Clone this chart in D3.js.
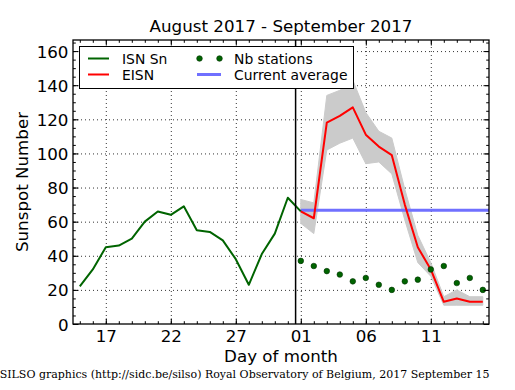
<!DOCTYPE html>
<html><head><meta charset="utf-8">
<script src="https://cdn.jsdelivr.net/npm/d3@7"></script>
<style>
html,body{margin:0;padding:0;background:#fff;}
svg{display:block;}
text{font-family:"DejaVu Sans",sans-serif;fill:#000;}
</style></head>
<body>
<svg id="c" width="515" height="390"></svg>
<script>
const isnDates = ["2017-08-15","2017-08-16","2017-08-17","2017-08-18","2017-08-19","2017-08-20","2017-08-21","2017-08-22","2017-08-23","2017-08-24","2017-08-25","2017-08-26","2017-08-27","2017-08-28","2017-08-29","2017-08-30","2017-08-31","2017-09-01"];
const isnValues = [22,32,45,46,50,60,66,64,69,55,54,49,38,23,41,53,74,66];
const eisnDates = ["2017-09-01","2017-09-02","2017-09-03","2017-09-04","2017-09-05","2017-09-06","2017-09-07","2017-09-08","2017-09-09","2017-09-10","2017-09-11","2017-09-12","2017-09-13","2017-09-14","2017-09-15"];
const eisnValues = [66,62,118,122,127,111,104,99,70,45,32,13,15,13,13];
const eisnLow    = [59,53,102,106,109,94,95,88,61,36,28,11,11,11,11];
const eisnHigh   = [73,71,134,137,143,124,113,109,79,52,36,16,20,16,16];
const nbStations = [37,34,31,29,25,27,23,20,25,26,32,34,24,27,20];
const currentAverage = 66.7;
const averageStart = "2017-09-01";
const todayMark = "2017-08-31T14:24";
const xDomain = ["2017-08-14T12:00","2017-09-15T12:00"];
const yDomain = [0,166.5];
const xMajorTicks = ["2017-08-17","2017-08-22","2017-08-27","2017-09-01","2017-09-06","2017-09-11"];
const yMajorTicks = [0,20,40,60,80,100,120,140,160];
const titleText = "August 2017 - September 2017";
const xLabel = "Day of month";
const yLabel = "Sunspot Number";
const footer = "SILSO graphics (http://sidc.be/silso) Royal Observatory of Belgium, 2017 September 15";
const legendItems = ["ISN Sn","EISN","Nb stations","Current average"];

const P = s => new Date(s + (s.length===10 ? "T00:00Z" : "Z"));
const L=73, R=489, T=40, B=324;
const svg = d3.select("#c");
const x = d3.scaleUtc().domain(xDomain.map(P)).range([L+0.3, R+0.3]);
const y = d3.scaleLinear().domain(yDomain).range([B, T]);

const minorDays = d3.utcDay.range(P("2017-08-15"), P("2017-09-16"));
const yMinor = d3.range(0, 166, 5);

// grid
const grid = svg.append("g").attr("stroke","#000");
grid.append("g").attr("transform",`translate(0,${B})`)
  .call(d3.axisBottom(x).tickValues(xMajorTicks.map(P)).tickSize(-(B-T)).tickFormat(""))
  .call(g=>{g.select(".domain").remove(); g.selectAll("line").attr("stroke","#000").attr("stroke-width",0.8).attr("stroke-dasharray","1,3");});
grid.append("g").attr("transform",`translate(${L},0)`)
  .call(d3.axisLeft(y).tickValues(yMajorTicks.filter(v=>v>0)).tickSize(-(R-L)).tickFormat(""))
  .call(g=>{g.select(".domain").remove(); g.selectAll("line").attr("stroke","#000").attr("stroke-width",0.8).attr("stroke-dasharray","1,3");});

const plot = svg.append("g");
svg.append("clipPath").attr("id","clip").append("rect").attr("x",L).attr("y",T).attr("width",R-L).attr("height",B-T);
plot.attr("clip-path","url(#clip)");

// band
const eisn = eisnDates.map((d,i)=>({d:P(d), v:eisnValues[i], lo:eisnLow[i], hi:eisnHigh[i], n:nbStations[i]}));
plot.append("path").datum(eisn)
  .attr("d", d3.area().x(p=>x(p.d)).y0(p=>y(p.lo)).y1(p=>y(p.hi)))
  .attr("fill","#cbcbcb").attr("stroke","#cbcbcb").attr("stroke-width",1);

// current average
plot.append("line").attr("x1",x(P(averageStart))).attr("x2",R).attr("y1",y(currentAverage)).attr("y2",y(currentAverage))
  .attr("stroke","#7070ff").attr("stroke-width",3);

// ISN line
const isn = isnDates.map((d,i)=>({d:P(d), v:isnValues[i]}));
plot.append("path").datum(isn).attr("d", d3.line().x(p=>x(p.d)).y(p=>y(p.v)))
  .attr("fill","none").attr("stroke","#006400").attr("stroke-width",2).attr("stroke-linejoin","round");

// EISN
plot.append("path").datum(eisn).attr("d", d3.line().x(p=>x(p.d)).y(p=>y(p.v)))
  .attr("fill","none").attr("stroke","#ff0000").attr("stroke-width",2).attr("stroke-linejoin","round");

// today line
svg.append("line").attr("x1",x(P(todayMark))).attr("x2",x(P(todayMark))).attr("y1",T).attr("y2",B)
  .attr("stroke","#000").attr("stroke-width",1.5);

// dots
plot.selectAll("circle.nb").data(eisn).join("circle").attr("class","nb")
  .attr("cx",p=>x(p.d)).attr("cy",p=>y(p.n)).attr("r",2.8)
  .attr("fill","#006400").attr("stroke","#003000").attr("stroke-width",0.6);

// axes ticks (inward) on all sides
function styleAxis(g){ g.select(".domain").remove(); g.selectAll("line").attr("stroke","#000").attr("stroke-width",1); }
const fmt = d3.utcFormat("%d");
svg.append("g").attr("transform",`translate(0,${B})`).call(d3.axisBottom(x).tickValues(minorDays).tickSize(-2.8).tickFormat("")).call(styleAxis);
svg.append("g").attr("transform",`translate(0,${T})`).call(d3.axisTop(x).tickValues(minorDays).tickSize(-2.8).tickFormat("")).call(styleAxis);
svg.append("g").attr("transform",`translate(0,${B})`).call(d3.axisBottom(x).tickValues(xMajorTicks.map(P)).tickSize(-5.5).tickPadding(0).tickFormat(fmt))
  .call(styleAxis).call(g=>g.selectAll("text").attr("font-size","16.7px").attr("dy",null).attr("y",18));
svg.append("g").attr("transform",`translate(0,${T})`).call(d3.axisTop(x).tickValues(xMajorTicks.map(P)).tickSize(-5.5).tickFormat("")).call(styleAxis);
svg.append("g").attr("transform",`translate(${L},0)`).call(d3.axisLeft(y).tickValues(yMinor).tickSize(-2.8).tickFormat("")).call(styleAxis);
svg.append("g").attr("transform",`translate(${R},0)`).call(d3.axisRight(y).tickValues(yMinor).tickSize(-2.8).tickFormat("")).call(styleAxis);
svg.append("g").attr("transform",`translate(${L},0)`).call(d3.axisLeft(y).tickValues(yMajorTicks).tickSize(-5.5).tickFormat(d3.format("d")))
  .call(styleAxis).call(g=>g.selectAll("text").attr("font-size","16.7px").attr("x",-4.5).attr("dy","0.36em").attr("text-anchor","end"));
svg.append("g").attr("transform",`translate(${R},0)`).call(d3.axisRight(y).tickValues(yMajorTicks).tickSize(-5.5).tickFormat("")).call(styleAxis);
svg.selectAll(".tick text").attr("font-family","DejaVu Sans").attr("fill","#000");

// frame
svg.append("rect").attr("x",L).attr("y",T).attr("width",R-L).attr("height",B-T)
  .attr("fill","none").attr("stroke","#000").attr("stroke-width",1.3);

// legend
const lg = svg.append("g");
lg.append("rect").attr("x",79.5).attr("y",46.5).attr("width",274).attr("height",42).attr("fill","#fff").attr("stroke","#000").attr("stroke-width",1);
const r1=58.5, r2=74.5;
lg.append("line").attr("x1",88).attr("x2",109).attr("y1",r1).attr("y2",r1).attr("stroke","#006400").attr("stroke-width",2);
lg.append("line").attr("x1",88).attr("x2",109).attr("y1",r2).attr("y2",r2).attr("stroke","#ff0000").attr("stroke-width",2);
lg.selectAll("circle").data([199.5,219.5]).join("circle").attr("cx",d=>d).attr("cy",r1).attr("r",2.8).attr("fill","#006400").attr("stroke","#003000").attr("stroke-width",0.6);
lg.append("line").attr("x1",197).attr("x2",221).attr("y1",r2).attr("y2",r2).attr("stroke","#7070ff").attr("stroke-width",3);
const lt = [[122,r1+5,legendItems[0]],[122,r2+5,legendItems[1]],[234,r1+5,legendItems[2]],[234,r2+5,legendItems[3]]];
lg.selectAll("text").data(lt).join("text").attr("x",d=>d[0]).attr("y",d=>d[1]).attr("font-size","13.9px").text(d=>d[2]);

// titles
svg.append("text").attr("x",(L+R)/2).attr("y",32).attr("text-anchor","middle").attr("font-size","16.7px").text(titleText);
svg.append("text").attr("x",(L+R)/2).attr("y",362).attr("text-anchor","middle").attr("font-size","16.7px").text(xLabel);
svg.append("text").attr("transform",`translate(28,${(T+B)/2}) rotate(-90)`).attr("text-anchor","middle").attr("font-size","16.7px").text(yLabel);
svg.append("text").attr("x",489.5).attr("y",377.5).attr("text-anchor","end").attr("font-size","11px")
  .style("font-family","'DejaVu Serif',serif").text(footer);
</script>
</body></html>
